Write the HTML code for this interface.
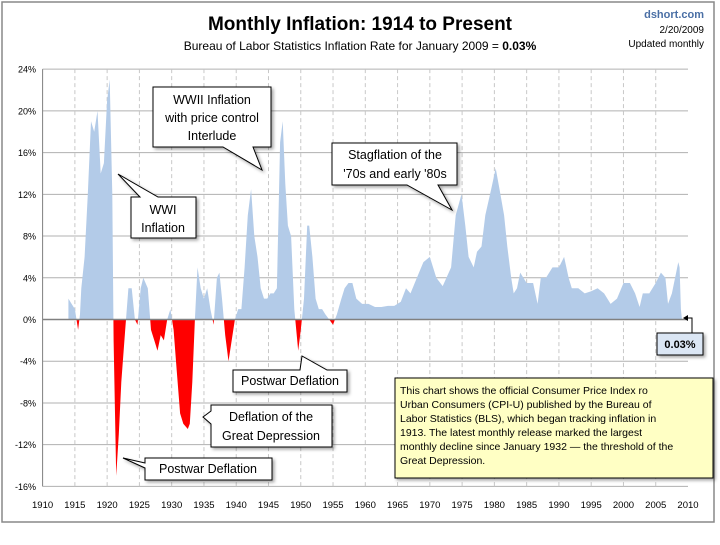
<!DOCTYPE html>
<html><head><meta charset="utf-8"><style>
body{margin:0;background:#fff;font-family:"Liberation Sans",sans-serif}
svg text{font-family:"Liberation Sans",sans-serif}
</style></head><body>
<svg id="chart" width="720" height="540" xmlns="http://www.w3.org/2000/svg">
<defs>
<clipPath id="clipPos"><rect x="0" y="0" width="720" height="320"/></clipPath>
<clipPath id="clipNeg"><rect x="0" y="320" width="720" height="220"/></clipPath>
<filter id="sh" x="-10%" y="-10%" width="130%" height="140%"><feDropShadow dx="2" dy="2" stdDeviation="1.5" flood-color="#000" flood-opacity="0.35"/></filter>
</defs>
<rect x="2" y="2" width="712" height="520" fill="#fff" stroke="#888" stroke-width="1.5"/>
<text x="360" y="30" text-anchor="middle" font-size="19" font-weight="bold">Monthly Inflation: 1914 to Present</text>
<text x="360" y="50" text-anchor="middle" font-size="12">Bureau of Labor Statistics Inflation Rate for January 2009 = <tspan font-weight="bold">0.03%</tspan></text>
<text x="704" y="18" text-anchor="end" font-size="11" font-weight="bold" fill="#4a6fa5">dshort.com</text>
<text x="704" y="33" text-anchor="end" font-size="10">2/20/2009</text>
<text x="704" y="47" text-anchor="end" font-size="10">Updated monthly</text>
<g id="grid"></g>
<g id="area"></g>
<g id="axes"></g>
<g id="notes"></g>
</svg>
<script>
const years=[1914,1914.5,1915,1915.5,1915.8,1916,1916.5,1917,1917.5,1918,1918.5,1919,1919.5,1920,1920.4,1920.8,1921,1921.4,1921.8,1922.2,1922.8,1923.3,1923.8,1924.3,1924.7,1925.2,1925.6,1926.3,1926.8,1927.3,1927.8,1928.3,1928.8,1929.3,1929.8,1930.3,1930.8,1931.3,1931.8,1932.5,1932.8,1933.2,1933.6,1934,1934.5,1935,1935.5,1936,1936.5,1937,1937.4,1937.8,1938.3,1938.8,1939.3,1939.8,1940.3,1940.8,1941.3,1941.8,1942.3,1942.8,1943.3,1943.8,1944.3,1944.8,1945.3,1945.8,1946.3,1946.8,1947.2,1947.6,1948,1948.5,1949,1949.6,1950,1950.5,1951,1951.3,1951.8,1952.3,1952.8,1953.3,1953.8,1954.4,1955,1955.6,1956.3,1956.8,1957.4,1958,1958.6,1959.5,1960.5,1961.5,1962.5,1963.5,1964.5,1965.5,1966.3,1967,1968,1969,1970,1971,1972,1973.3,1974,1974.9,1975.5,1976,1976.8,1977.3,1978,1978.6,1979.5,1980.2,1980.8,1981.5,1982,1982.6,1983,1983.5,1984,1985,1986,1986.7,1987.2,1988,1989,1990,1990.8,1991.5,1992,1993,1994,1995,1996,1997,1998,1999,2000,2001,2001.8,2002.5,2003,2004,2005,2005.8,2006.5,2006.9,2007.5,2008,2008.5,2008.7,2008.9,2009.05];
const rates=[2,1.5,1,-1,0.5,3,6,12,19,18,20,14,15,21,23,12,-2,-15,-11,-6,-1,3,3,0,-0.5,3,4,3,-1,-2,-3,-1.5,-2,0,1,-1,-5,-9,-10,-10.5,-10,-6,0,5,3,2,3,1,-0.5,4,4.5,2,-1.5,-4,-2,0,1,1,5,10,12.5,8,6,3,2,2,2.5,2.5,3,17,19,13,9,8,1,-3,-1,2,9,9,6,2,1,1,0.5,0,-0.5,0.5,2,3,3.5,3.5,2,1.5,1.5,1.2,1.2,1.3,1.3,1.7,3,2.5,4,5.5,6,4,3.2,5,10,12,9,6,5,6.5,7,10,12.5,14.5,12.5,10,7,4,2.5,3,4.5,3.5,3.5,1.5,4,4,5,5,6,4,3,3,2.5,2.7,3,2.5,1.5,2,3.5,3.5,2.5,1.2,2.5,2.5,3.5,4.5,4,1.5,2.5,4,5.5,5,1,0.03];
const yTicks=[24,20,16,12,8,4,0,-4,-8,-12,-16];
const xTicks=[1910,1915,1920,1925,1930,1935,1940,1945,1950,1955,1960,1965,1970,1975,1980,1985,1990,1995,2000,2005,2010];
const NS="http://www.w3.org/2000/svg";
const X0=42.6,X1=688,Y0=319.5,PPU=10.43;
const xs=y=>X0+(y-1910)*(X1-X0)/100;
const ys=v=>Y0-v*PPU;
function mk(t,a,p){const e=document.createElementNS(NS,t);for(const k in a)e.setAttribute(k,a[k]);p.appendChild(e);return e;}
const grid=document.getElementById('grid'),axes=document.getElementById('axes'),area=document.getElementById('area');
yTicks.forEach(v=>{
 const l=mk('line',{x1:X0,x2:X1,y1:ys(v),y2:ys(v),stroke:'#b0b0b0','stroke-width':1},grid);
 
 
 const t=mk('text',{x:36,y:ys(v)+3.5,'text-anchor':'end','font-size':9},axes);
 t.textContent=v+'%';
 
 
});
xTicks.forEach(yr=>{
 if(yr>1910&&yr<2010){const l=mk('line',{x1:xs(yr),x2:xs(yr),y1:ys(24),y2:ys(-16),stroke:'#c8c8c8','stroke-dasharray':'4,3'},grid);
 
 }
 const t=mk('text',{x:xs(yr),y:508,'text-anchor':'middle','font-size':9.5},axes);
 t.textContent=yr;
 
 
});
let d='M'+xs(years[0])+','+ys(0);
years.forEach((y,i)=>{d+=' L'+xs(y).toFixed(1)+','+ys(rates[i]).toFixed(1);});
d+=' L'+xs(years[years.length-1])+','+ys(0)+' Z';
const pos=mk('path',{d:d,fill:'#b3cbe8','clip-path':'url(#clipPos)'},area);


const neg=mk('path',{d:d,fill:'#ff0000','clip-path':'url(#clipNeg)'},area);


const zl=mk('line',{x1:X0,x2:X1,y1:Y0,y2:Y0,stroke:'#808080','stroke-width':1.5},axes);


const al=mk('line',{x1:X0,x2:X0,y1:ys(24),y2:ys(-16),stroke:'#808080'},axes);


</script>
<svg width="720" height="540" style="position:absolute;left:0;top:0" xmlns="http://www.w3.org/2000/svg">
<g font-size="12.5" text-anchor="middle" stroke-linejoin="miter">
<g filter="url(#sh)">
<path d="M153,87 H271 V147 H253 L262,170 L223,147 H153 Z" fill="#fff" stroke="#000"/>
</g>
<text x="212" y="104">WWII Inflation</text><text x="212" y="122">with price control</text><text x="212" y="140">Interlude</text>
<g filter="url(#sh)">
<path d="M131,197 H140 L118,174 L158,197 H196 V238 H131 Z" fill="#fff" stroke="#000"/>
</g>
<text x="163" y="214">WWI</text><text x="163" y="232">Inflation</text>
<g filter="url(#sh)">
<path d="M332,143 H457 V185 H438 L452,210 L407,185 H332 Z" fill="#fff" stroke="#000"/>
</g>
<text x="395" y="159">Stagflation of the</text><text x="395" y="178">'70s and early '80s</text>
<g filter="url(#sh)">
<path d="M233,370 H300 L302,356 L327,370 H347 V392 H233 Z" fill="#fff" stroke="#000"/>
</g>
<text x="290" y="385">Postwar Deflation</text>
<g filter="url(#sh)">
<path d="M211,405 H332 V447 H211 V424 L203,417 L211,411 Z" fill="#fff" stroke="#000"/>
</g>
<text x="271" y="421">Deflation of the</text><text x="271" y="440">Great Depression</text>
<g filter="url(#sh)">
<path d="M145,458 H272 V480 H145 V468 L123,458 L145,463 Z" fill="#fff" stroke="#000"/>
</g>
<text x="208" y="473">Postwar Deflation</text>
<g filter="url(#sh)">
<rect x="657" y="333" width="46" height="22" fill="#dbe6f4" stroke="#000"/>
</g>
<text x="680" y="348" font-size="11" font-weight="bold">0.03%</text>
<path d="M692,333 V318 H685" fill="none" stroke="#000"/>
<path d="M683,318 L688,315 L688,321 Z" fill="#000"/>
<g filter="url(#sh)">
<rect x="395" y="378" width="318" height="100" fill="#ffffc4" stroke="#000"/>
</g>
<g text-anchor="start" font-size="10.5">
<text x="400" y="394">This chart shows the official Consumer Price Index ro</text>
<text x="400" y="408">Urban Consumers (CPI-U) published by the Bureau of</text>
<text x="400" y="422">Labor Statistics (BLS), which began tracking inflation in</text>
<text x="400" y="436">1913.  The latest  monthly release marked the largest</text>
<text x="400" y="450">monthly decline since January 1932 — the threshold of the</text>
<text x="400" y="464">Great Depression.</text>
</g>
</g>
</svg>
</body></html>
